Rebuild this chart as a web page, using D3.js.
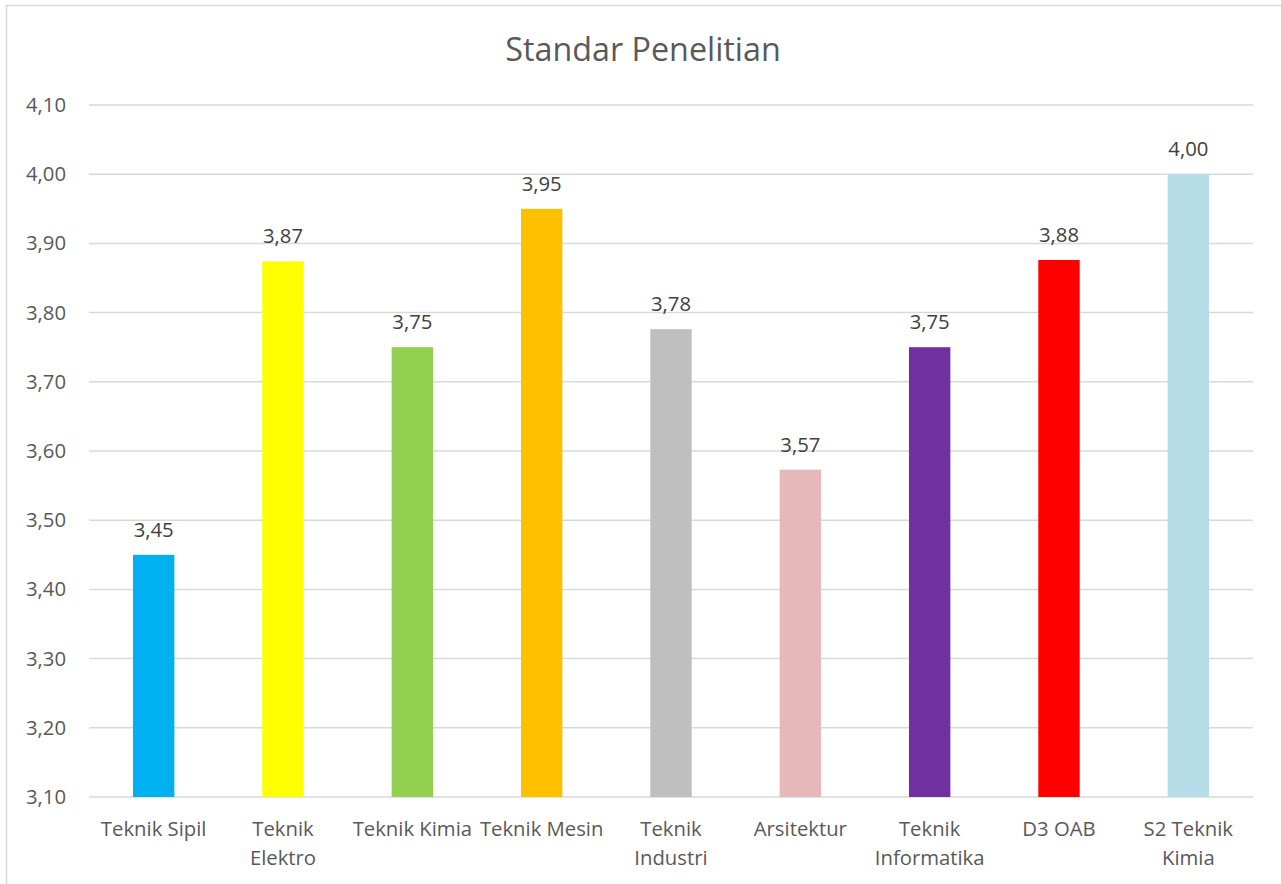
<!DOCTYPE html>
<html><head><meta charset="utf-8">
<script src="https://cdn.jsdelivr.net/npm/d3@7"></script>
<style>
html,body{margin:0;padding:0;background:#fff;}
text{font-family:"Open Sans",sans-serif;}
</style></head>
<body><svg id="c" width="1281" height="884"></svg>
<script>
const categories = [["Teknik Sipil"],["Teknik","Elektro"],["Teknik Kimia"],["Teknik Mesin"],["Teknik","Industri"],["Arsitektur"],["Teknik","Informatika"],["D3 OAB"],["S2 Teknik","Kimia"]];
const values = [3.45, 3.874, 3.75, 3.95, 3.776, 3.573, 3.75, 3.876, 4.00];
const colors = ["#00B0F0","#FFFF00","#92D050","#FFC000","#BFBFBF","#E6B8B7","#7030A0","#FF0000","#B7DDE8"];
const yTicks = [3.10,3.20,3.30,3.40,3.50,3.60,3.70,3.80,3.90,4.00,4.10];
const title = "Standar Penelitian";
const FS = "20.3px";

const svg = d3.select("#c");
svg.append("rect").attr("x",6.5).attr("y",5.5).attr("width",1290).attr("height",900)
  .attr("fill","#fff").attr("stroke","#D9D9D9").attr("stroke-width",1.5);

const x = d3.scaleBand().domain(d3.range(categories.length)).range([89,1253]).paddingInner(0.68).paddingOuter(0.34);
const y = d3.scaleLinear().domain([3.10,4.10]).range([797,105]);
const fmt = v => d3.format(".2f")(v).replace(".",",");

svg.append("g").selectAll("line").data(yTicks).join("line")
  .attr("x1",89).attr("x2",1253).attr("y1",d=>y(d)).attr("y2",d=>y(d))
  .attr("stroke","#D9D9D9").attr("stroke-width",1.5);

const yAxis = d3.axisLeft(y).tickValues(yTicks).tickFormat(fmt).tickSize(0).tickPadding(0);
const ga = svg.append("g").attr("transform","translate(66,0)").call(yAxis);
ga.select(".domain").remove();
ga.selectAll("text").attr("fill","#595959").style("font-size",FS).style("font-family","'Open Sans',sans-serif");

svg.append("g").selectAll("rect").data(values).join("rect")
  .attr("x",(d,i)=>x(i)).attr("width",x.bandwidth())
  .attr("y",d=>y(d)).attr("height",d=>y(3.10)-y(d))
  .attr("fill",(d,i)=>colors[i]);

svg.append("g").selectAll("text").data(values).join("text")
  .attr("x",(d,i)=>x(i)+x.bandwidth()/2).attr("y",d=>y(d)-18)
  .attr("text-anchor","middle").attr("fill","#404040").style("font-size",FS)
  .text(fmt);

const xl = svg.append("g").selectAll("text").data(categories).join("text")
  .attr("x",(d,i)=>x(i)+x.bandwidth()/2).attr("y",836)
  .attr("text-anchor","middle").attr("fill","#595959").style("font-size",FS);
xl.selectAll("tspan").data(d=>d).join("tspan")
  .attr("x",function(){return this.parentNode.getAttribute("x");})
  .attr("dy",(d,i)=>i===0?0:28.5).text(d=>d);

svg.append("text").attr("x",643).attr("y",61).attr("text-anchor","middle")
  .attr("fill","#595959").style("font-size","32.3px").text(title);
</script></body></html>
